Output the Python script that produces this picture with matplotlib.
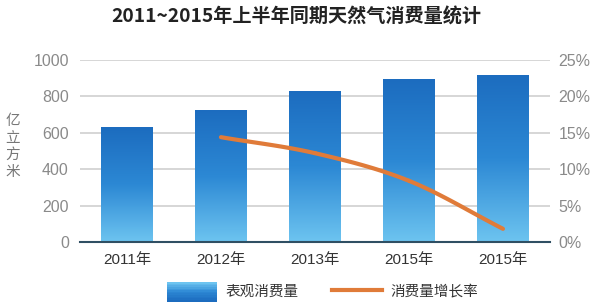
import numpy as np
import matplotlib
matplotlib.use("Agg")
import matplotlib.pyplot as plt
from matplotlib.patches import Rectangle
from matplotlib.lines import Line2D
from matplotlib.legend_handler import HandlerBase

plt.rcParams['font.family'] = ['Liberation Sans', 'Noto Sans CJK SC', 'DejaVu Sans']

categories = ['2011年', '2012年', '2013年', '2015年', '2015年']
consumption = [630, 728, 832, 895, 920]
growth_x = [1, 2, 3, 4]
growth = [14.4, 12.2, 8.4, 1.8]
left_ticks = [0, 200, 400, 600, 800, 1000]
right_ticks = [0, 5, 10, 15, 20, 25]

fig = plt.figure(figsize=(5.92, 3.02), dpi=100)
ax = fig.add_axes([0.135, 0.199, 0.794, 0.602])

cmap = matplotlib.colors.LinearSegmentedColormap.from_list('b', ['#6dc4f0', '#2c88d4', '#1c6cbf'])
grad = np.linspace(0, 1, 256).reshape(-1, 1)
bw = 0.55
for i, v in enumerate(consumption):
    rect = Rectangle((i - bw / 2, 0), bw, v, facecolor='none', edgecolor='none')
    ax.add_patch(rect)
    im = ax.imshow(grad, extent=[i - bw / 2, i + bw / 2, 0, v], origin='lower',
                   cmap=cmap, aspect='auto', zorder=2)
    im.set_clip_path(rect)
ax.set_aspect('auto')
ax.set_xlim(-0.5, 4.5)
ax.set_ylim(0, 1000)

ax.set_yticks(left_ticks)
ax.yaxis.grid(True, color='#d0d0d0', linewidth=1.2)
ax.set_axisbelow(True)
for s in ['top', 'right', 'left']:
    ax.spines[s].set_visible(False)
ax.spines['bottom'].set_color('#2f4f63')
ax.spines['bottom'].set_linewidth(1.5)
ax.spines['bottom'].set_zorder(5)
ax.tick_params(axis='y', length=0, labelsize=11.5, labelcolor='#8a8a8a', pad=8)
ax.tick_params(axis='x', length=0, labelsize=11, labelcolor='#333333', pad=8)
ax.set_xticks(range(len(categories)))
ax.set_xticklabels(categories)

ax2 = ax.twinx()
ax2.set_ylim(0, 25)
ax2.set_yticks(right_ticks)
ax2.set_yticklabels([f'{t}%' for t in right_ticks])
for s in ax2.spines.values():
    s.set_visible(False)
ax2.tick_params(axis='y', length=0, labelsize=11.5, labelcolor='#8a8a8a', pad=6)

# smooth (Catmull-Rom) drawing through the data points
px = np.array(growth_x, dtype=float)
py = np.array(growth, dtype=float)
P = np.column_stack([px, py])
P = np.vstack([2 * P[0] - P[1], P, 2 * P[-1] - P[-2]])
xs, ys = [], []
t = np.linspace(0, 1, 30)
for k in range(1, len(P) - 2):
    p0, p1, p2, p3 = P[k - 1], P[k], P[k + 1], P[k + 2]
    seg = 0.5 * ((2 * p1)[None, :] + (-p0 + p2)[None, :] * t[:, None]
                 + (2 * p0 - 5 * p1 + 4 * p2 - p3)[None, :] * t[:, None] ** 2
                 + (-p0 + 3 * p1 - 3 * p2 + p3)[None, :] * t[:, None] ** 3)
    xs.extend(seg[:, 0]); ys.extend(seg[:, 1])
ax2.plot(xs, ys, color='#e07b39', linewidth=3, solid_capstyle='round', zorder=4)

fig.text(0.5, 0.945, '2011~2015年上半年同期天然气消费量统计', ha='center', va='center',
         fontsize=13.8, fontweight='bold', color='#222222',
         family=['Noto Sans CJK SC', 'DejaVu Sans'])
fig.text(0.022, 0.515, '亿\n立\n方\n米', ha='center', va='center', fontsize=10.5,
         color='#777777', linespacing=1.25, family=['Noto Sans CJK SC'])


class GradHandler(HandlerBase):
    def create_artists(self, legend, orig_handle, xdescent, ydescent, width, height, fontsize, trans):
        n = 12
        arts = []
        for k in range(n):
            c = cmap(1 - k / (n - 1))
            r = Rectangle((xdescent, ydescent - height * 0.6 + height * 1.9 * k / n), width,
                          height * 1.9 / n + 0.3, facecolor=c, edgecolor='none', transform=trans)
            arts.append(r)
        return arts


bar_handle = Rectangle((0, 0), 1, 1)
line_handle = Line2D([0], [0], color='#e07b39', linewidth=3)
leg = fig.legend([bar_handle, line_handle], ['表观消费量', '消费量增长率'],
                 handler_map={Rectangle: GradHandler()}, loc='center', bbox_to_anchor=(0.545, 0.035),
                 ncol=2, frameon=False, handlelength=3.4, columnspacing=2.3,
                 handletextpad=0.6, prop={'family': ['Noto Sans CJK SC'], 'size': 10.5})
for txt in leg.get_texts():
    txt.set_color('#333333')

fig.savefig('out.png', dpi=100)
